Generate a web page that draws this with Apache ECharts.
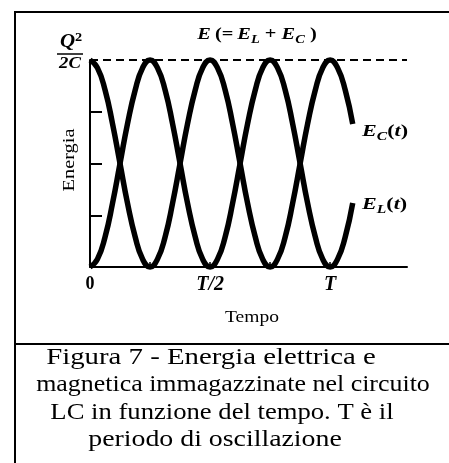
<!DOCTYPE html>
<html>
<head>
<meta charset="utf-8">
<script src="https://cdn.jsdelivr.net/npm/echarts@6/dist/echarts.min.js"></script>
<style>
  html, body { margin: 0; padding: 0; background: #fff; }
  #chart { width: 449px; height: 463px; }
</style>
</head>
<body>
<div id="chart"></div>
<script>
// Time samples, in units of the oscillation period T
const timeT = [
  0.000, 0.031, 0.063, 0.094, 0.125, 0.156, 0.188, 0.219,
  0.250, 0.281, 0.313, 0.344, 0.375, 0.406, 0.438, 0.469,
  0.500, 0.531, 0.563, 0.594, 0.625, 0.656, 0.688, 0.719,
  0.750, 0.781, 0.813, 0.844, 0.875, 0.906, 0.938, 0.969,
  1.000, 1.031, 1.063, 1.094
];
// Electric energy E_C(t), as a fraction of Q^2/2C
const energyC = [
  1.000, 0.962, 0.854, 0.691, 0.500, 0.309, 0.146, 0.038,
  0.000, 0.038, 0.146, 0.309, 0.500, 0.691, 0.854, 0.962,
  1.000, 0.962, 0.854, 0.691, 0.500, 0.309, 0.146, 0.038,
  0.000, 0.038, 0.146, 0.309, 0.500, 0.691, 0.854, 0.962,
  1.000, 0.962, 0.854, 0.691
];
// Magnetic energy E_L(t), as a fraction of Q^2/2C
const energyL = [
  0.000, 0.038, 0.146, 0.309, 0.500, 0.691, 0.854, 0.962,
  1.000, 0.962, 0.854, 0.691, 0.500, 0.309, 0.146, 0.038,
  0.000, 0.038, 0.146, 0.309, 0.500, 0.691, 0.854, 0.962,
  1.000, 0.962, 0.854, 0.691, 0.500, 0.309, 0.146, 0.038,
  0.000, 0.038, 0.146, 0.309
];
// Total energy E = E_L + E_C (constant)
const totalEnergy = [1, 1];
const totalTime = [0, 1.32];

// Axis ticks and labels
const xTickValues = [0.25, 0.5, 0.75, 1];
const xLabelValues = [0, 0.5, 1];
const xLabelText = ['0', 'T/2', 'T'];
const yTickValues = [0.25, 0.5, 0.75];

const captionLines = [
  'Figura 7 - Energia elettrica e',
  'magnetica immagazzinate nel circuito',
  'LC in funzione del tempo. T è il',
  'periodo di oscillazione'
];

const serif = '"Liberation Serif", "Times New Roman", serif';
const ink = '#000';

const pairs = (xs, ys) => xs.map((x, i) => [x, ys[i]]);

const chart = echarts.init(document.getElementById('chart'), null, { renderer: 'canvas' });

const subRich = {
  m: { fontFamily: serif, fontStyle: 'italic', fontWeight: 'bold', fontSize: 17, lineHeight: 22, fill: ink },
  u: { fontFamily: serif, fontStyle: 'normal', fontWeight: 'bold', fontSize: 17, lineHeight: 22, fill: ink },
  s: { fontFamily: serif, fontStyle: 'italic', fontWeight: 'bold', fontSize: 12, lineHeight: 12, padding: [9, 0, 0, 0], fill: ink }
};

// caption lines: centre x, middle y, horizontal stretch
const captionX = [211, 233, 222, 215];
const captionY = [358, 385, 413, 440];
const captionScale = [1.2, 1.08, 1.11, 1.16];

const captionGraphics = captionLines.map((line, i) => ({
  type: 'text',
  x: captionX[i],
  y: captionY[i],
  scaleX: captionScale[i],
  style: {
    text: line,
    fontFamily: serif,
    fontSize: 24,
    fill: ink,
    textAlign: 'center',
    textVerticalAlign: 'middle'
  }
}));

chart.setOption({
  backgroundColor: '#fff',
  animation: false,
  grid: { left: 90, right: 42, top: 60, bottom: 196 },
  xAxis: {
    type: 'value',
    min: 0,
    max: 1.32,
    axisLine: { show: true, lineStyle: { color: ink, width: 2 } },
    splitLine: { show: false },
    axisTick: {
      show: true,
      inside: true,
      length: 5,
      customValues: xTickValues,
      lineStyle: { color: ink, width: 1.5 }
    },
    axisLabel: {
      show: true,
      customValues: xLabelValues,
      margin: 8,
      formatter: function (v) {
        const idx = xLabelValues.indexOf(v);
        const txt = idx >= 0 ? xLabelText[idx] : '';
        return txt === '0' ? '{n|' + txt + '}' : '{i|' + txt + '}';
      },
      rich: {
        n: { fontFamily: serif, fontWeight: 'bold', fontSize: 18, color: ink },
        i: { fontFamily: serif, fontStyle: 'italic', fontWeight: 'bold', fontSize: 20, color: ink }
      }
    }
  },
  yAxis: {
    type: 'value',
    min: 0,
    max: 1,
    axisLine: { show: true, lineStyle: { color: ink, width: 2 } },
    splitLine: { show: false },
    axisTick: {
      show: true,
      inside: true,
      length: 12,
      customValues: yTickValues,
      lineStyle: { color: ink, width: 2 }
    },
    axisLabel: { show: false }
  },
  series: [
    {
      name: 'E',
      type: 'line',
      data: pairs(totalTime, totalEnergy),
      showSymbol: false,
      clip: false,
      lineStyle: { color: ink, width: 2, type: [8, 5] },
      z: 1
    },
    {
      name: 'E_C',
      type: 'line',
      data: pairs(timeT, energyC),
      smooth: true,
      showSymbol: false,
      clip: false,
      lineStyle: { color: ink, width: 5.5 },
      z: 2
    },
    {
      name: 'E_L',
      type: 'line',
      data: pairs(timeT, energyL),
      smooth: true,
      showSymbol: false,
      clip: false,
      lineStyle: { color: ink, width: 5.5 },
      z: 2
    }
  ],
  graphic: [
    // frame around figure and caption
    {
      type: 'polyline',
      shape: { points: [[15, 470], [15, 12], [455, 12]] },
      style: { stroke: ink, lineWidth: 2, fill: null }
    },
    {
      type: 'line',
      shape: { x1: 15, y1: 344, x2: 455, y2: 344 },
      style: { stroke: ink, lineWidth: 2 }
    },
    // Q^2 / 2C
    {
      type: 'text', x: 71, y: 52, scaleX: 1.1,
      style: {
        text: '{m|Q}{p|2}',
        textAlign: 'center', textVerticalAlign: 'bottom',
        rich: {
          m: { fontFamily: serif, fontStyle: 'italic', fontWeight: 'bold', fontSize: 19, lineHeight: 20, fill: ink },
          p: { fontFamily: serif, fontWeight: 'bold', fontSize: 13, lineHeight: 13, padding: [0, 0, 8, 0], fill: ink }
        }
      }
    },
    {
      type: 'line',
      shape: { x1: 57, y1: 54, x2: 83, y2: 54 },
      style: { stroke: ink, lineWidth: 1.5 }
    },
    {
      type: 'text', x: 70, y: 55, scaleX: 1.1,
      style: {
        text: '2C', fontFamily: serif, fontStyle: 'italic', fontWeight: 'bold', fontSize: 17,
        fill: ink, textAlign: 'center', textVerticalAlign: 'top'
      }
    },
    // E (= E_L + E_C)
    {
      type: 'text', x: 257, y: 35, scaleX: 1.2,
      style: {
        text: '{m|E} {u|(=} {m|E}{s|L}{u| + }{m|E}{s|C}{u| )}',
        textAlign: 'center', textVerticalAlign: 'middle',
        rich: subRich
      }
    },
    // curve labels
    {
      type: 'text', x: 362, y: 132, scaleX: 1.3,
      style: {
        text: '{m|E}{s|C}{u|(}{m|t}{u|)}',
        textAlign: 'left', textVerticalAlign: 'middle',
        rich: subRich
      }
    },
    {
      type: 'text', x: 362, y: 205, scaleX: 1.3,
      style: {
        text: '{m|E}{s|L}{u|(}{m|t}{u|)}',
        textAlign: 'left', textVerticalAlign: 'middle',
        rich: subRich
      }
    },
    // axis titles
    {
      type: 'text', x: 70, y: 160, rotation: Math.PI / 2, scaleX: 1.2,
      style: {
        text: 'Energia', fontFamily: serif, fontSize: 17, fill: ink,
        textAlign: 'center', textVerticalAlign: 'middle'
      }
    },
    {
      type: 'text', x: 252, y: 318, scaleX: 1.22,
      style: {
        text: 'Tempo', fontFamily: serif, fontSize: 16, fill: ink,
        textAlign: 'center', textVerticalAlign: 'middle'
      }
    }
  ].concat(captionGraphics)
});
</script>
</body>
</html>
